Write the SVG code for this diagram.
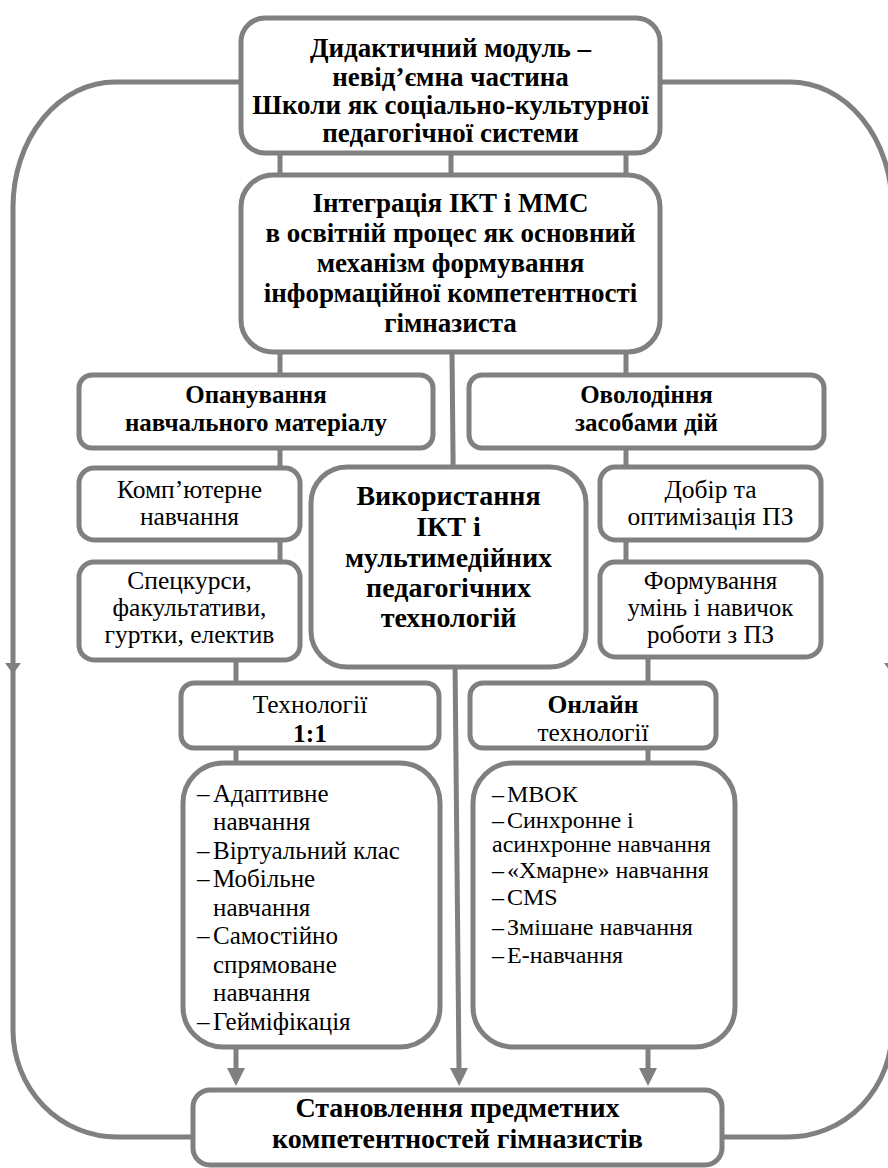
<svg xmlns="http://www.w3.org/2000/svg" width="888" height="1168" viewBox="0 0 888 1168">
<defs>
<marker id="ah" viewBox="0 0 18 18" refX="0" refY="9" markerWidth="18" markerHeight="18" markerUnits="userSpaceOnUse" orient="auto"><path d="M0,0 L18,9 L0,18 Z" fill="#808080"/></marker>
<marker id="ahs" viewBox="0 0 11 16" refX="0" refY="8" markerWidth="11" markerHeight="16" markerUnits="userSpaceOnUse" orient="auto"><path d="M0,0 L11,8 L0,16 Z" fill="#808080"/></marker>
</defs>
<rect width="888" height="1168" fill="#ffffff"/>
<g id="connectors" fill="none" stroke="#808080" stroke-width="5">
<path d="M241 82 H115 A102 125 0 0 0 13 207 V663" marker-end="url(#ahs)"/>
<path d="M13 663 V1030 A104 107 0 0 0 117 1137 H193"/>
<path d="M660 82 H790 A102 125 0 0 1 892 207 V663" marker-end="url(#ahs)"/>
<path d="M892 663 V1030 A104 107 0 0 1 788 1137 H722"/>
<path d="M280 153 V177 M451 153 V177 M626 153 V177"/>
<path d="M280 352 V377 M626 352 V377"/>
<path d="M452 352 L459 1068" marker-end="url(#ah)"/>
<path d="M280 448 V470 M280 540 V564 M626 448 V470 M626 540 V564"/>
<path d="M236 660 V685 M648 657 V685 M236 748 V765 M648 748 V765"/>
<path d="M236 1047 V1068" marker-end="url(#ah)"/>
<path d="M648 1047 V1068" marker-end="url(#ah)"/>
</g>
<g id="nodes" fill="#ffffff" stroke="#808080" stroke-width="5">
<g id="n-top">
<rect x="241" y="18" width="419" height="135" rx="24"/>
<text font-family="Liberation Serif, serif" font-weight="bold" text-anchor="middle" fill="#000" stroke="none" font-size="27"><tspan x="450.5" y="57">Дидактичний модуль –</tspan><tspan x="450.5" y="85.5">невід’ємна частина</tspan><tspan x="450.5" y="114">Школи як соціально-культурної</tspan><tspan x="450.5" y="142">педагогічної системи</tspan></text>
</g>
<g id="n-integration">
<rect x="241" y="175" width="419" height="177" rx="32"/>
<text font-family="Liberation Serif, serif" font-weight="bold" text-anchor="middle" fill="#000" stroke="none" font-size="27"><tspan x="450.5" y="212">Інтеграція ІКТ і ММС</tspan><tspan x="450.5" y="242">в освітній процес як основний</tspan><tspan x="450.5" y="272">механізм формування</tspan><tspan x="450.5" y="302">інформаційної компетентності</tspan><tspan x="450.5" y="332">гімназиста</tspan></text>
</g>
<g id="n-opanuvannia">
<rect x="79" y="375" width="354" height="73" rx="13"/>
<text font-family="Liberation Serif, serif" font-weight="bold" text-anchor="middle" fill="#000" stroke="none" font-size="25"><tspan x="256" y="403">Опанування</tspan><tspan x="256" y="431">навчального матеріалу</tspan></text>
</g>
<g id="n-ovolodinnia">
<rect x="469" y="375" width="355" height="73" rx="13"/>
<text font-family="Liberation Serif, serif" font-weight="bold" text-anchor="middle" fill="#000" stroke="none" font-size="25"><tspan x="646.5" y="403">Оволодіння</tspan><tspan x="646.5" y="431">засобами дій</tspan></text>
</g>
<g id="n-komp">
<rect x="79" y="468" width="221" height="72" rx="15"/>
<text font-family="Liberation Serif, serif" text-anchor="middle" fill="#000" stroke="none" font-size="25.5"><tspan x="189.5" y="498">Комп’ютерне</tspan><tspan x="189.5" y="525">навчання</tspan></text>
</g>
<g id="n-spec">
<rect x="79" y="562" width="221" height="98" rx="15"/>
<text font-family="Liberation Serif, serif" text-anchor="middle" fill="#000" stroke="none" font-size="25.5"><tspan x="189.5" y="589">Спецкурси,</tspan><tspan x="189.5" y="616">факультативи,</tspan><tspan x="189.5" y="643">гуртки, електив</tspan></text>
</g>
<g id="n-vykorystannia">
<rect x="311" y="467" width="275" height="200" rx="36"/>
<text font-family="Liberation Serif, serif" font-weight="bold" text-anchor="middle" fill="#000" stroke="none" font-size="28"><tspan x="448.5" y="505">Використання</tspan><tspan x="448.5" y="536">ІКТ і</tspan><tspan x="448.5" y="567">мультимедійних</tspan><tspan x="448.5" y="597">педагогічних</tspan><tspan x="448.5" y="627">технологій</tspan></text>
</g>
<g id="n-dobir">
<rect x="600" y="467" width="221" height="73" rx="15"/>
<text font-family="Liberation Serif, serif" text-anchor="middle" fill="#000" stroke="none" font-size="25.5"><tspan x="710.5" y="498">Добір та</tspan><tspan x="710.5" y="525">оптимізація ПЗ</tspan></text>
</g>
<g id="n-formuvannia">
<rect x="600" y="562" width="221" height="95" rx="15"/>
<text font-family="Liberation Serif, serif" text-anchor="middle" fill="#000" stroke="none" font-size="25"><tspan x="710.5" y="589">Формування</tspan><tspan x="710.5" y="616">умінь і навичок</tspan><tspan x="710.5" y="643">роботи з ПЗ</tspan></text>
</g>
<g id="n-tech11">
<rect x="181" y="683" width="258" height="65" rx="13"/>
<text font-family="Liberation Serif, serif" text-anchor="middle" fill="#000" stroke="none" font-size="25.5"><tspan x="310" y="713">Технології</tspan><tspan x="310" y="742" font-weight="bold">1:1</tspan></text>
</g>
<g id="n-online">
<rect x="470" y="683" width="246" height="65" rx="13"/>
<text font-family="Liberation Serif, serif" text-anchor="middle" fill="#000" stroke="none" font-size="25.5"><tspan x="593" y="713" font-weight="bold">Онлайн</tspan><tspan x="593" y="741">технології</tspan></text>
</g>
<g id="n-list11">
<rect x="183" y="763" width="257" height="284" rx="40"/>
<text font-family="Liberation Serif, serif" fill="#000" stroke="none" font-size="25"><tspan x="197" y="802">–</tspan><tspan x="213" y="802">Адаптивне</tspan><tspan x="213" y="830">навчання</tspan><tspan x="197" y="859">–</tspan><tspan x="213" y="859">Віртуальний клас</tspan><tspan x="197" y="887">–</tspan><tspan x="213" y="887">Мобільне</tspan><tspan x="213" y="916">навчання</tspan><tspan x="197" y="944">–</tspan><tspan x="213" y="944">Самостійно</tspan><tspan x="213" y="973">спрямоване</tspan><tspan x="213" y="1001">навчання</tspan><tspan x="197" y="1030">–</tspan><tspan x="213" y="1030">Гейміфікація</tspan></text>
</g>
<g id="n-listonline">
<rect x="473" y="763" width="262" height="284" rx="40"/>
<text font-family="Liberation Serif, serif" fill="#000" stroke="none" font-size="24"><tspan x="492" y="802">–</tspan><tspan x="507" y="802">МВОК</tspan><tspan x="492" y="828">–</tspan><tspan x="507" y="828">Синхронне і</tspan><tspan x="492" y="852">асинхронне навчання</tspan><tspan x="492" y="878">–</tspan><tspan x="507" y="878">«Хмарне» навчання</tspan><tspan x="492" y="905">–</tspan><tspan x="507" y="905">CMS</tspan><tspan x="492" y="935">–</tspan><tspan x="507" y="935">Змішане навчання</tspan><tspan x="492" y="963">–</tspan><tspan x="507" y="963">Е-навчання</tspan></text>
</g>
<g id="n-bottom">
<rect x="193" y="1090" width="529" height="75" rx="17"/>
<text font-family="Liberation Serif, serif" font-weight="bold" text-anchor="middle" fill="#000" stroke="none" font-size="28"><tspan x="457.5" y="1117">Становлення предметних</tspan><tspan x="457.5" y="1148">компетентностей гімназистів</tspan></text>
</g>
</g>
</svg>
